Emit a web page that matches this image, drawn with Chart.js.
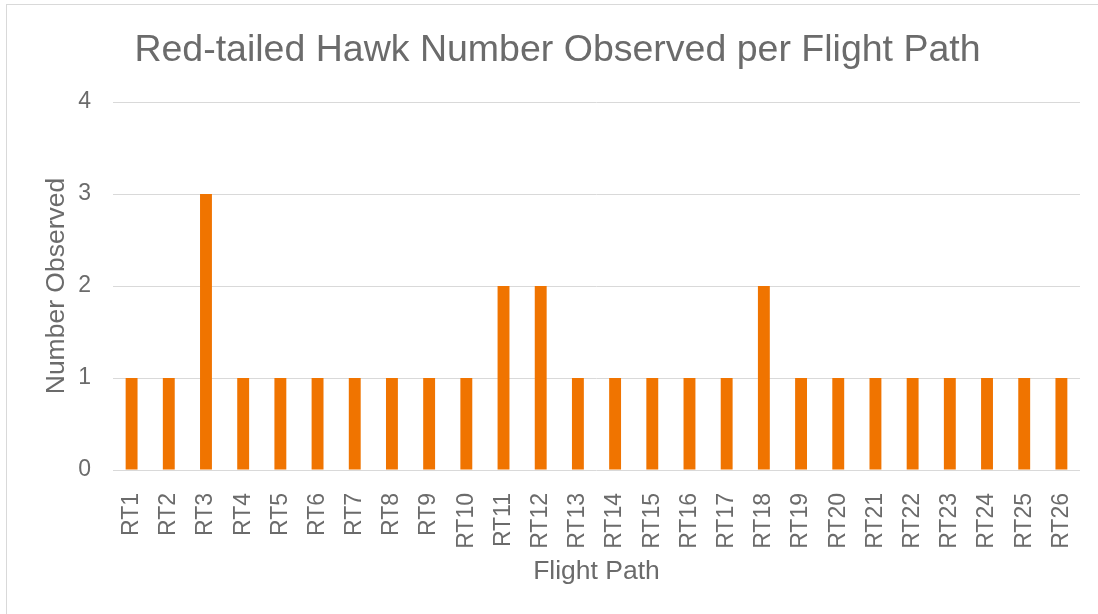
<!DOCTYPE html>
<html>
<head>
<meta charset="utf-8">
<script src="https://cdn.jsdelivr.net/npm/chart.js@4"></script>
<style>
  html, body { margin: 0; padding: 0; background: #fff; overflow: hidden; }
  #wrap { position: relative; width: 1098px; height: 614px; }
  #frame { position: absolute; left: 6px; top: 4px; width: 1200px; height: 700px;
           border: 1px solid #d9d9d9; pointer-events: none; }
  canvas { position: absolute; left: 0; top: 0; }
</style>
</head>
<body>
<div id="wrap">
  <canvas id="canvas" width="1098" height="614"></canvas>
  <div id="frame"></div>
</div>
<script>
// Red-tailed Hawk counts
const categories = ["RT1", "RT2", "RT3", "RT4", "RT5", "RT6", "RT7", "RT8", "RT9", "RT10",
  "RT11", "RT12", "RT13", "RT14", "RT15", "RT16", "RT17", "RT18", "RT19", "RT20",
  "RT21", "RT22", "RT23", "RT24", "RT25", "RT26"];
const observed = [1, 1, 3, 1, 1, 1, 1, 1, 1, 1, 2, 2, 1, 1, 1, 1, 1, 2, 1, 1, 1, 1, 1, 1, 1, 1];
const yTicks = [0, 1, 2, 3, 4];

const textColor = "#6b6b6b";
const gridColor = "#d9d9d9";

Chart.defaults.font.family = "'Liberation Sans', Arial, sans-serif";
Chart.defaults.color = textColor;

const ctx = document.getElementById("canvas").getContext("2d");

new Chart(ctx, {
  type: "bar",
  data: {
    labels: categories,
    datasets: [{
      label: "Number Observed",
      data: observed,
      backgroundColor: "#f07400",
      borderWidth: 0,
      categoryPercentage: 1,
      barPercentage: 0.32
    }]
  },
  options: {
    responsive: false,
    maintainAspectRatio: false,
    animation: false,
    devicePixelRatio: 1,
    layout: { padding: { left: 35, right: 18, top: 0, bottom: 0 } },
    plugins: {
      legend: { display: false },
      tooltip: { enabled: false },
      title: {
        display: true,
        text: "Red-tailed Hawk Number Observed per Flight Path",
        color: textColor,
        font: { size: 37.5, weight: "normal" },
        padding: { top: 28, bottom: 29 }
      }
    },
    scales: {
      x: {
        grid: { display: false },
        border: { display: false },
        ticks: {
          minRotation: 90,
          maxRotation: 90,
          padding: 15,
          color: textColor,
          font: { size: 23 }
        },
        title: {
          display: true,
          text: "Flight Path",
          color: textColor,
          font: { size: 26.5 },
          padding: { top: 4, bottom: 26 }
        },
        afterFit: (s) => {
          s.height = 144;
          s.paddingLeft = 0;
          s.paddingRight = 0;
        }
      },
      y: {
        min: 0,
        max: 4,
        afterBuildTicks: (s) => { s.ticks = yTicks.map(v => ({ value: v })); },
        grid: { color: gridColor, lineWidth: 1, drawTicks: false },
        border: { display: false },
        ticks: {
          padding: 22,
          color: textColor,
          font: { size: 23 }
        },
        title: {
          display: true,
          text: "Number Observed",
          color: textColor,
          font: { size: 26.5 },
          padding: { top: 6, bottom: 4 }
        },
        afterFit: (s) => { s.width = 78; }
      }
    }
  }
});
</script>
</body>
</html>
